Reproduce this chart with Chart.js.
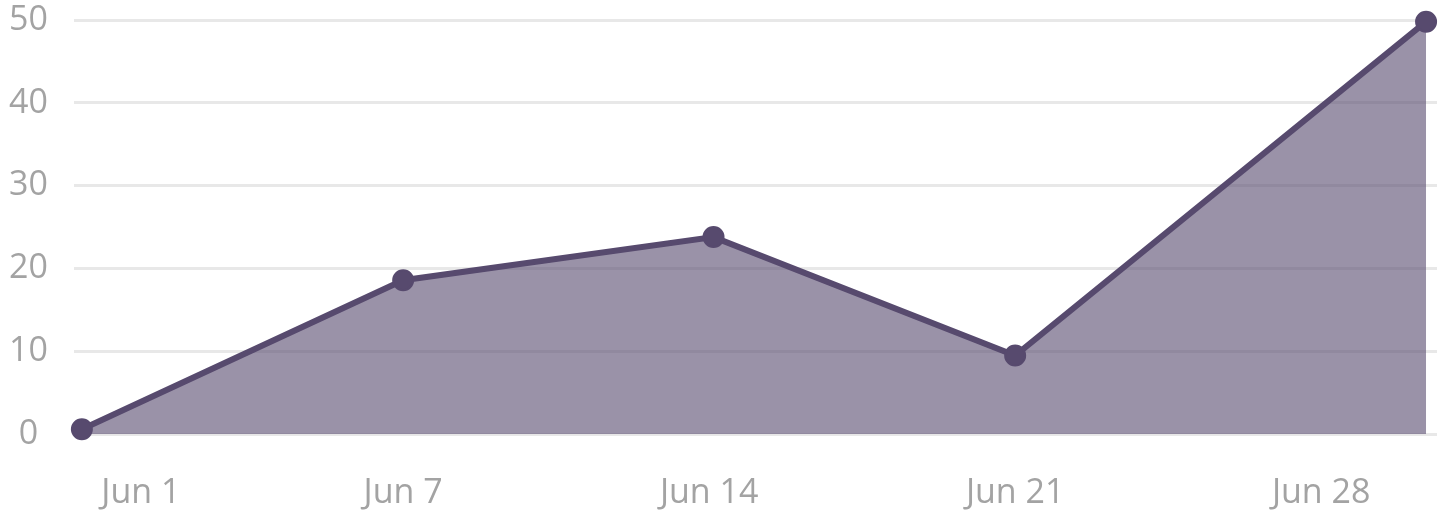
<!DOCTYPE html>
<html>
<head>
<meta charset="utf-8">
<script src="https://cdn.jsdelivr.net/npm/chart.js@4"></script>
<style>
  html, body { margin: 0; padding: 0; background: #fff; }
  #wrap { width: 1445px; height: 515px; }
</style>
</head>
<body>
<div id="wrap"><canvas id="chart"></canvas></div>
<script>
// day of June for each point (0 = May 31), and the values
const days = [-0.35, 7, 14.1, 21, 30.4];
const values = [0.6, 18.6, 23.8, 9.5, 49.8];
const tickDays = [1, 7, 14, 21, 28];
const yTicks = [0, 10, 20, 30, 40, 50];

const lineColor = "#574a6e";
const tickFont = { family: "'Open Sans'", size: 34 };

new Chart(document.getElementById("chart"), {
  type: "line",
  data: {
    datasets: [{
      data: days.map((d, i) => ({ x: d, y: values[i] })),
      borderColor: lineColor,
      backgroundColor: "rgba(87, 74, 110, 0.6)",
      borderWidth: 6,
      fill: "origin",
      tension: 0,
      clip: false,
      pointRadius: 10,
      pointBackgroundColor: lineColor,
      pointBorderColor: lineColor,
      pointBorderWidth: 2
    }]
  },
  options: {
    responsive: true,
    maintainAspectRatio: false,
    animation: false,
    layout: { autoPadding: false, padding: { top: 20, right: 8, bottom: 0, left: 0 } },
    plugins: { legend: { display: false }, tooltip: { enabled: false } },
    scales: {
      x: {
        type: "linear",
        min: -0.53,
        max: 30.65,
        afterBuildTicks: (axis) => { axis.ticks = tickDays.map(v => ({ value: v })); },
        afterFit: (axis) => { axis.height = 80.7; axis.paddingLeft = 0; axis.paddingRight = 0; },
        ticks: {
          callback: (v) => "Jun " + v,
          color: "#a3a3a3",
          font: tickFont,
          padding: 31,
          maxRotation: 0,
          autoSkip: false
        },
        grid: { display: false },
        border: { display: false }
      },
      y: {
        min: 0,
        max: 50,
        afterBuildTicks: (axis) => { axis.ticks = yTicks.map(v => ({ value: v })); },
        afterFit: (axis) => { axis.width = 74; axis.paddingTop = 0; axis.paddingBottom = 0; },
        ticks: {
          color: "#a3a3a3",
          font: tickFont,
          padding: 26,
          crossAlign: "center"
        },
        grid: { color: "#e8e8e8", lineWidth: 3, drawTicks: false },
        border: { display: false }
      }
    }
  }
});
</script>
</body>
</html>
